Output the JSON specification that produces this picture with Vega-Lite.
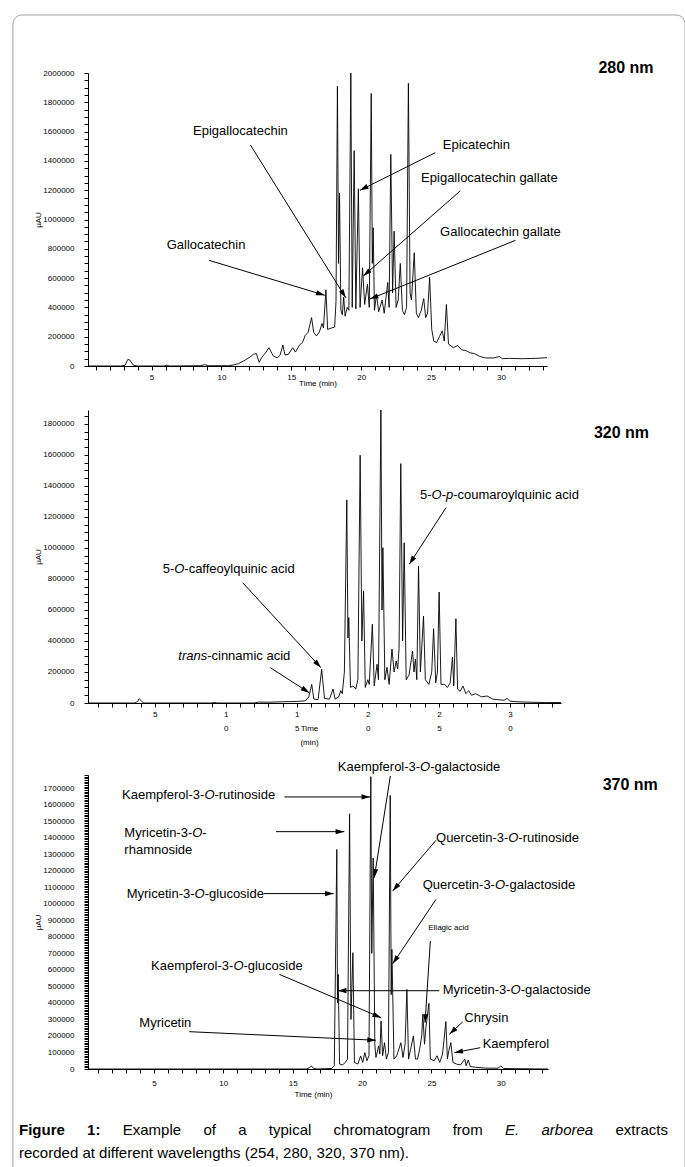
{
"$schema": "https://vega.github.io/schema/vega-lite/v6.json",
"background": "white",
"padding": {"left": 12, "top": 14, "right": 0, "bottom": 0},
"bounds": "flush",
"spacing": 14,
"config": {
  "font": "Liberation Sans",
  "view": {"stroke": null},
  "axis": {"grid": false, "domainColor": "#000", "tickColor": "#000", "labelColor": "#000", "titleColor": "#000",
    "labelFont": "Liberation Sans", "titleFont": "Liberation Sans", "labelFontSize": 8, "titleFontSize": 8,
    "titleFontWeight": "normal", "labelOverlap": false, "labelFlush": false, "labelBound": false,
    "tickSize": 4, "domainWidth": 1, "tickWidth": 1}
},
"datasets": {
  "border": [{"t": -4.92, "t2": 43.18, "v": 2396000, "v2": -5800000}],
  "p1": [
    {"t":0.45,"v":0},{"t":2.8,"v":0},{"t":3.1,"v":5000},{"t":3.3,"v":45000},{"t":3.45,"v":40000},{"t":3.7,"v":5000},{"t":4.0,"v":0},
    {"t":5.9,"v":0},{"t":6.1,"v":6000},{"t":6.3,"v":0},{"t":8.5,"v":2000},{"t":8.8,"v":9000},{"t":9.1,"v":2000},{"t":10.5,"v":2000},
    {"t":10.9,"v":8000},{"t":11.2,"v":15000},{"t":11.6,"v":35000},{"t":12.0,"v":58000},{"t":12.3,"v":80000},{"t":12.5,"v":85000},
    {"t":12.7,"v":25000},{"t":12.9,"v":60000},{"t":13.2,"v":95000},{"t":13.4,"v":125000},{"t":13.7,"v":70000},{"t":14.0,"v":55000},
    {"t":14.2,"v":75000},{"t":14.4,"v":143000},{"t":14.55,"v":75000},{"t":14.8,"v":80000},{"t":15.1,"v":125000},{"t":15.3,"v":95000},
    {"t":15.6,"v":145000},{"t":15.8,"v":160000},{"t":16.0,"v":210000},{"t":16.2,"v":230000},{"t":16.45,"v":330000},{"t":16.6,"v":230000},
    {"t":16.8,"v":205000},{"t":17.0,"v":230000},{"t":17.2,"v":290000},{"t":17.3,"v":260000},{"t":17.48,"v":520000},{"t":17.6,"v":250000},
    {"t":17.9,"v":260000},{"t":18.1,"v":265000},{"t":18.2,"v":440000},{"t":18.3,"v":1910000},{"t":18.38,"v":700000},{"t":18.45,"v":1180000},
    {"t":18.55,"v":380000},{"t":18.65,"v":350000},{"t":18.75,"v":470000},{"t":18.85,"v":340000},{"t":19.0,"v":400000},{"t":19.12,"v":380000},
    {"t":19.26,"v":2000000},{"t":19.36,"v":400000},{"t":19.5,"v":1470000},{"t":19.62,"v":390000},{"t":19.8,"v":1210000},{"t":19.92,"v":400000},
    {"t":20.1,"v":670000},{"t":20.25,"v":420000},{"t":20.45,"v":560000},{"t":20.58,"v":400000},{"t":20.72,"v":1860000},{"t":20.8,"v":700000},
    {"t":20.86,"v":944000},{"t":20.95,"v":380000},{"t":21.1,"v":490000},{"t":21.25,"v":370000},{"t":21.5,"v":450000},{"t":21.65,"v":360000},
    {"t":21.9,"v":570000},{"t":22.0,"v":400000},{"t":22.12,"v":1445000},{"t":22.25,"v":500000},{"t":22.36,"v":920000},{"t":22.5,"v":400000},
    {"t":22.65,"v":450000},{"t":22.8,"v":700000},{"t":22.95,"v":380000},{"t":23.1,"v":350000},{"t":23.25,"v":400000},{"t":23.38,"v":1930000},
    {"t":23.5,"v":500000},{"t":23.6,"v":450000},{"t":23.8,"v":773000},{"t":23.95,"v":360000},{"t":24.1,"v":330000},{"t":24.3,"v":380000},
    {"t":24.48,"v":460000},{"t":24.62,"v":330000},{"t":24.75,"v":360000},{"t":24.9,"v":605000},{"t":25.05,"v":250000},{"t":25.2,"v":170000},
    {"t":25.4,"v":160000},{"t":25.6,"v":200000},{"t":25.8,"v":240000},{"t":25.95,"v":170000},{"t":26.1,"v":420000},{"t":26.25,"v":150000},
    {"t":26.6,"v":125000},{"t":26.9,"v":140000},{"t":27.2,"v":110000},{"t":27.5,"v":105000},{"t":27.8,"v":90000},{"t":28.1,"v":85000},
    {"t":28.5,"v":65000},{"t":28.9,"v":55000},{"t":29.5,"v":55000},{"t":29.9,"v":65000},{"t":30.1,"v":50000},{"t":30.6,"v":52000},
    {"t":31.5,"v":50000},{"t":32.5,"v":52000},{"t":33.3,"v":57000}
  ],
  "a1": [
    {"t":12.07,"v":1509000,"t2":18.9,"v2":466000,"rot":148},
    {"t":9.12,"v":721000,"t2":17.39,"v2":483000,"rot":107},
    {"t":25.3,"v":1456000,"t2":19.91,"v2":1199000,"rot":243},
    {"t":27.09,"v":1195000,"t2":20.15,"v2":614000,"rot":229},
    {"t":31.05,"v":858000,"t2":20.62,"v2":457000,"rot":248}
  ],
  "n1": [
    {"t":7.97,"v":1604000,"s":"Epigallocatechin"},
    {"t":6.08,"v":826000,"s":"Gallocatechin"},
    {"t":25.84,"v":1507000,"s":"Epicatechin"},
    {"t":24.29,"v":1285000,"s":"Epigallocatechin gallate"},
    {"t":25.65,"v":915000,"s":"Gallocatechin gallate"}
  ],
  "w1": [{"t":36.98,"v":2034000,"s":"280 nm"}],
  "p2": [
    {"t":0.3,"v":0},{"t":3.6,"v":0},{"t":3.8,"v":10000},{"t":3.9,"v":28000},{"t":4.05,"v":15000},{"t":4.2,"v":0},{"t":9.0,"v":0},
    {"t":9.2,"v":4000},{"t":9.4,"v":0},{"t":12.0,"v":0},{"t":12.3,"v":6000},{"t":13.0,"v":5000},{"t":14.0,"v":8000},{"t":15.0,"v":10000},
    {"t":15.6,"v":14000},{"t":15.85,"v":40000},{"t":16.05,"v":120000},{"t":16.2,"v":25000},{"t":16.5,"v":22000},{"t":16.75,"v":217000},
    {"t":16.95,"v":30000},{"t":17.3,"v":25000},{"t":17.55,"v":90000},{"t":17.7,"v":25000},{"t":17.95,"v":40000},{"t":18.1,"v":80000},
    {"t":18.2,"v":60000},{"t":18.35,"v":200000},{"t":18.52,"v":1310000},{"t":18.6,"v":420000},{"t":18.66,"v":551000},{"t":18.78,"v":100000},
    {"t":18.95,"v":110000},{"t":19.15,"v":90000},{"t":19.3,"v":150000},{"t":19.46,"v":1598000},{"t":19.58,"v":400000},{"t":19.7,"v":723000},
    {"t":19.82,"v":100000},{"t":20.0,"v":150000},{"t":20.1,"v":120000},{"t":20.32,"v":508000},{"t":20.45,"v":110000},{"t":20.65,"v":250000},
    {"t":20.75,"v":150000},{"t":20.92,"v":1890000},{"t":21.0,"v":600000},{"t":21.06,"v":1002000},{"t":21.2,"v":150000},{"t":21.35,"v":230000},
    {"t":21.5,"v":120000},{"t":21.7,"v":348000},{"t":21.85,"v":200000},{"t":22.0,"v":271000},{"t":22.1,"v":220000},{"t":22.2,"v":350000},
    {"t":22.32,"v":1544000},{"t":22.45,"v":400000},{"t":22.56,"v":1034000},{"t":22.7,"v":150000},{"t":22.9,"v":180000},{"t":23.15,"v":335000},
    {"t":23.25,"v":200000},{"t":23.35,"v":284000},{"t":23.45,"v":150000},{"t":23.57,"v":884000},{"t":23.7,"v":200000},{"t":23.92,"v":561000},
    {"t":24.05,"v":150000},{"t":24.3,"v":120000},{"t":24.5,"v":200000},{"t":24.63,"v":479000},{"t":24.78,"v":130000},{"t":24.9,"v":200000},
    {"t":25.02,"v":716000},{"t":25.15,"v":120000},{"t":25.4,"v":120000},{"t":25.6,"v":100000},{"t":25.8,"v":130000},{"t":25.96,"v":297000},
    {"t":26.05,"v":110000},{"t":26.2,"v":544000},{"t":26.32,"v":90000},{"t":26.5,"v":75000},{"t":26.7,"v":110000},{"t":26.9,"v":60000},
    {"t":27.1,"v":80000},{"t":27.3,"v":50000},{"t":27.6,"v":60000},{"t":28.0,"v":40000},{"t":28.4,"v":45000},{"t":28.8,"v":25000},
    {"t":29.3,"v":20000},{"t":29.6,"v":18000},{"t":29.8,"v":30000},{"t":30.0,"v":12000},{"t":30.5,"v":8000},{"t":31.5,"v":5000},
    {"t":32.5,"v":3000},{"t":33.6,"v":3000}
  ],
  "a2": [
    {"t":11.19,"v":776000,"t2":16.7,"v2":228000,"rot":137},
    {"t":13.13,"v":228000,"t2":15.88,"v2":66000,"rot":123},
    {"t":25.5,"v":1260000,"t2":22.92,"v2":895000,"rot":213}
  ],
  "n2": [
    {"t":5.56,"v":862000,"s":"5-"},{"t":7.08,"v":862000,"s":"-caffeoylquinic acid"},
    {"t":8.69,"v":303000,"s":"-cinnamic acid"},
    {"t":23.67,"v":1342000,"s":"5-"},{"t":25.2,"v":1342000,"s":"-"},{"t":26.01,"v":1342000,"s":"-coumaroylquinic acid"}
  ],
  "i2": [
    {"t":6.37,"v":862000,"s":"O"},{"t":6.66,"v":303000,"s":"trans"},
    {"t":24.49,"v":1342000,"s":"O"},{"t":25.5,"v":1342000,"s":"p"}
  ],
  "w2": [{"t":35.92,"v":1740000,"s":"320 nm"}],
  "p3": [
    {"t":0.25,"v":0},{"t":16.0,"v":0},{"t":16.2,"v":8000},{"t":16.35,"v":18000},{"t":16.5,"v":4000},{"t":16.8,"v":0},{"t":17.3,"v":2000},
    {"t":17.8,"v":3000},{"t":18.0,"v":20000},{"t":18.18,"v":1329000},{"t":18.23,"v":400000},{"t":18.28,"v":573000},{"t":18.38,"v":30000},
    {"t":18.6,"v":25000},{"t":18.8,"v":40000},{"t":18.95,"v":60000},{"t":19.1,"v":1545000},{"t":19.2,"v":300000},{"t":19.34,"v":704000},
    {"t":19.45,"v":40000},{"t":19.7,"v":30000},{"t":19.9,"v":79000},{"t":20.05,"v":40000},{"t":20.2,"v":99000},{"t":20.35,"v":50000},
    {"t":20.5,"v":80000},{"t":20.63,"v":1770000},{"t":20.7,"v":700000},{"t":20.8,"v":1278000},{"t":20.92,"v":150000},{"t":21.0,"v":70000},
    {"t":21.2,"v":140000},{"t":21.28,"v":90000},{"t":21.37,"v":290000},{"t":21.48,"v":80000},{"t":21.62,"v":159000},{"t":21.75,"v":60000},
    {"t":21.9,"v":100000},{"t":22.03,"v":1656000},{"t":22.1,"v":450000},{"t":22.15,"v":724000},{"t":22.3,"v":60000},{"t":22.5,"v":80000},
    {"t":22.65,"v":120000},{"t":22.8,"v":159000},{"t":22.95,"v":70000},{"t":23.1,"v":150000},{"t":23.23,"v":482000},{"t":23.35,"v":60000},
    {"t":23.5,"v":120000},{"t":23.7,"v":200000},{"t":23.85,"v":60000},{"t":24.0,"v":60000},{"t":24.15,"v":120000},{"t":24.3,"v":200000},
    {"t":24.38,"v":330000},{"t":24.5,"v":150000},{"t":24.6,"v":250000},{"t":24.82,"v":398000},{"t":24.92,"v":60000},{"t":25.2,"v":50000},
    {"t":25.4,"v":80000},{"t":25.6,"v":40000},{"t":25.8,"v":90000},{"t":26.04,"v":287000},{"t":26.15,"v":60000},{"t":26.25,"v":110000},
    {"t":26.4,"v":160000},{"t":26.55,"v":40000},{"t":26.8,"v":30000},{"t":27.1,"v":25000},{"t":27.4,"v":60000},{"t":27.5,"v":20000},
    {"t":27.65,"v":55000},{"t":27.8,"v":15000},{"t":28.2,"v":10000},{"t":29.0,"v":5000},{"t":29.8,"v":5000},{"t":30.0,"v":18000},
    {"t":30.2,"v":3000},{"t":31.0,"v":2000},{"t":33.4,"v":0}
  ],
  "a3": [
    {"t":14.4,"v":1647000,"t2":20.59,"v2":1647000,"rot":90},
    {"t":22.04,"v":1774000,"t2":20.88,"v2":1158000,"rot":189},
    {"t":13.8,"v":1437000,"t2":18.72,"v2":1437000,"rot":90},
    {"t":12.91,"v":1062000,"t2":17.96,"v2":1062000,"rot":90},
    {"t":14.04,"v":573000,"t2":21.37,"v2":311000,"rot":113},
    {"t":7.55,"v":226000,"t2":21.0,"v2":174000,"rot":92.6},
    {"t":25.33,"v":1385000,"t2":22.21,"v2":1078000,"rot":220.5},
    {"t":25.33,"v":1027000,"t2":22.21,"v2":637000,"rot":214},
    {"t":24.92,"v":775000,"t2":24.54,"v2":280000,"rot":184},
    {"t":25.57,"v":474000,"t2":18.25,"v2":474000,"rot":270},
    {"t":27.25,"v":285000,"t2":26.29,"v2":210000,"rot":227},
    {"t":28.52,"v":129000,"t2":26.65,"v2":99000,"rot":259}
  ],
  "n3": [
    {"t":2.70,"v":1657000,"s":"Kaempferol-3-"},{"t":9.36,"v":1657000,"s":"-rutinoside"},
    {"t":18.25,"v":1828000,"s":"Kaempferol-3-"},{"t":24.91,"v":1828000,"s":"-galactoside"},
    {"t":2.87,"v":1431000,"s":"Myricetin-3-"},{"t":8.49,"v":1431000,"s":"-"},
    {"t":2.87,"v":1324000,"s":"rhamnoside"},
    {"t":3.04,"v":1061000,"s":"Myricetin-3-"},{"t":8.66,"v":1061000,"s":"-glucoside"},
    {"t":4.79,"v":624000,"s":"Kaempferol-3-"},{"t":11.45,"v":624000,"s":"-glucoside"},
    {"t":3.95,"v":280000,"s":"Myricetin"},
    {"t":25.33,"v":1400000,"s":"Quercetin-3-"},{"t":31.26,"v":1400000,"s":"-rutinoside"},
    {"t":24.37,"v":1112000,"s":"Quercetin-3-"},{"t":30.31,"v":1112000,"s":"-galactoside"},
    {"t":25.81,"v":476000,"s":"Myricetin-3-"},{"t":31.43,"v":476000,"s":"-galactoside"},
    {"t":27.37,"v":311000,"s":"Chrysin"},
    {"t":28.69,"v":153000,"s":"Kaempferol"}
  ],
  "i3": [
    {"t":8.64,"v":1657000,"s":"O"},{"t":24.18,"v":1828000,"s":"O"},{"t":7.76,"v":1431000,"s":"O"},
    {"t":7.93,"v":1061000,"s":"O"},{"t":10.73,"v":624000,"s":"O"},{"t":30.53,"v":1400000,"s":"O"},
    {"t":29.58,"v":1112000,"s":"O"},{"t":30.7,"v":476000,"s":"O"}
  ],
  "sm3": [{"t":24.77,"v":855000,"s":"Ellagic acid"}],
  "w3": [{"t":37.34,"v":1719000,"s":"370 nm"}],
  "capn": [
    {"t":2.75,"v":-369000,"s":"Example"},{"t":8.57,"v":-369000,"s":"of"},{"t":11.07,"v":-369000,"s":"a"},
    {"t":13.28,"v":-369000,"s":"typical"},{"t":17.95,"v":-369000,"s":"chromatogram"},{"t":26.53,"v":-369000,"s":"from"},
    {"t":38.26,"v":-369000,"s":"extracts"},
    {"t":-4.72,"v":-509000,"s":"recorded at different wavelengths (254, 280, 320, 370 nm)."}
  ],
  "capb": [{"t":-4.72,"v":-369000,"s":"Figure"},{"t":0.185,"v":-369000,"s":"1:"}],
  "capi": [{"t":30.3,"v":-369000,"s":"E."},{"t":32.93,"v":-369000,"s":"arborea"}]
},
"vconcat": [
  {
    "width": 459, "height": 293,
    "encoding": {
      "x": {"field": "t", "type": "quantitative", "scale": {"domain": [0.45, 33.3], "nice": false, "zero": false},
        "axis": {"title": "Time (min)", "tickCount": 33, "format": "d", "labelExpr": "datum.value % 5 === 0 ? datum.label : ''",
          "labelPadding": 3.5, "titleY": 17, "titleBaseline": "middle"}},
      "y": {"field": "v", "type": "quantitative", "scale": {"domain": [0, 2000000], "nice": false, "zero": false},
        "axis": {"title": "µAU", "tickCount": 40, "format": "d", "labelExpr": "datum.value % 200000 === 0 ? datum.label : ''",
          "labelPadding": 10, "titleX": -50, "titleBaseline": "middle"}}
    },
    "layer": [
      {"data": {"name": "border"}, "mark": {"type": "rect", "fillOpacity": 0, "stroke": "#a0a0a0", "strokeWidth": 1, "cornerRadius": 9},
        "encoding": {"x2": {"field": "t2"}, "y2": {"field": "v2"}}},
      {"data": {"name": "p1"}, "mark": {"type": "line", "color": "#000", "strokeWidth": 0.9}},
      {"data": {"name": "a1"}, "mark": {"type": "rule", "color": "#000", "strokeWidth": 1},
        "encoding": {"x2": {"field": "t2"}, "y2": {"field": "v2"}}},
      {"data": {"name": "a1"}, "mark": {"type": "point", "shape": "M0,0L-0.3,1L0.3,1Z", "filled": true, "color": "#000", "opacity": 1, "size": 300},
        "encoding": {
          "x": {"field": "t2", "type": "quantitative", "scale": {"domain": [0.45, 33.3], "nice": false, "zero": false}},
          "y": {"field": "v2", "type": "quantitative", "scale": {"domain": [0, 2000000], "nice": false, "zero": false}},
          "angle": {"field": "rot", "type": "quantitative", "scale": null}}},
      {"data": {"name": "n1"}, "mark": {"type": "text", "align": "left", "baseline": "middle", "fontSize": 13, "color": "#000"},
        "encoding": {"text": {"field": "s"}}},
      {"data": {"name": "w1"}, "mark": {"type": "text", "align": "left", "baseline": "middle", "fontSize": 16, "fontWeight": "bold", "color": "#000"},
        "encoding": {"text": {"field": "s"}}}
    ]
  },
  {"width": 459, "height": 16, "data": {"values": []}, "mark": "point", "encoding": {}},
  {
    "width": 473, "height": 293,
    "encoding": {
      "x": {"field": "t", "type": "quantitative", "scale": {"domain": [0.3, 33.6], "nice": false, "zero": false},
        "axis": {"title": ["Time", "(min)"], "tickCount": 33, "format": "d",
          "labelExpr": "datum.value % 5 === 0 ? (datum.value >= 10 ? split(datum.label, '') : datum.label) : ''",
          "labelPadding": 3.5, "labelLineHeight": 14, "titleX": 221, "titleY": 21, "titleBaseline": "top", "titleLineHeight": 14.7}},
      "y": {"field": "v", "type": "quantitative", "scale": {"domain": [0, 1890000], "nice": false, "zero": false},
        "axis": {"title": "µAU", "tickCount": 38, "format": "d", "labelExpr": "datum.value % 200000 === 0 ? datum.label : ''",
          "labelPadding": 10, "titleX": -50, "titleBaseline": "middle"}}
    },
    "layer": [
      {"data": {"name": "p2"}, "mark": {"type": "line", "color": "#000", "strokeWidth": 0.9}},
      {"data": {"name": "a2"}, "mark": {"type": "rule", "color": "#000", "strokeWidth": 1},
        "encoding": {"x2": {"field": "t2"}, "y2": {"field": "v2"}}},
      {"data": {"name": "a2"}, "mark": {"type": "point", "shape": "M0,0L-0.3,1L0.3,1Z", "filled": true, "color": "#000", "opacity": 1, "size": 300},
        "encoding": {
          "x": {"field": "t2", "type": "quantitative", "scale": {"domain": [0.3, 33.6], "nice": false, "zero": false}},
          "y": {"field": "v2", "type": "quantitative", "scale": {"domain": [0, 1890000], "nice": false, "zero": false}},
          "angle": {"field": "rot", "type": "quantitative", "scale": null}}},
      {"data": {"name": "n2"}, "mark": {"type": "text", "align": "left", "baseline": "middle", "fontSize": 13, "color": "#000"},
        "encoding": {"text": {"field": "s"}}},
      {"data": {"name": "i2"}, "mark": {"type": "text", "align": "left", "baseline": "middle", "fontSize": 13, "fontStyle": "italic", "color": "#000"},
        "encoding": {"text": {"field": "s"}}},
      {"data": {"name": "w2"}, "mark": {"type": "text", "align": "left", "baseline": "middle", "fontSize": 16, "fontWeight": "bold", "color": "#000"},
        "encoding": {"text": {"field": "s"}}}
    ]
  },
  {"width": 459, "height": 44, "data": {"values": []}, "mark": "point", "encoding": {}},
  {
    "width": 460, "height": 294,
    "encoding": {
      "x": {"field": "t", "type": "quantitative", "scale": {"domain": [0.25, 33.4], "nice": false, "zero": false},
        "axis": {"title": "Time (min)", "tickCount": 33, "format": "d", "labelExpr": "datum.value % 5 === 0 ? datum.label : ''",
          "labelPadding": 6.5, "titleX": 225, "titleY": 25, "titleBaseline": "middle"}},
      "y": {"field": "v", "type": "quantitative", "scale": {"domain": [0, 1780000], "nice": false, "zero": false},
        "axis": {"title": "µAU", "tickCount": 178, "format": "d", "labelExpr": "datum.value % 100000 === 0 ? datum.label : ''",
          "labelPadding": 10, "titleX": -50, "titleBaseline": "middle"}}
    },
    "layer": [
      {"data": {"name": "p3"}, "mark": {"type": "line", "color": "#000", "strokeWidth": 0.9}},
      {"data": {"name": "a3"}, "mark": {"type": "rule", "color": "#000", "strokeWidth": 1},
        "encoding": {"x2": {"field": "t2"}, "y2": {"field": "v2"}}},
      {"data": {"name": "a3"}, "mark": {"type": "point", "shape": "M0,0L-0.3,1L0.3,1Z", "filled": true, "color": "#000", "opacity": 1, "size": 300},
        "encoding": {
          "x": {"field": "t2", "type": "quantitative", "scale": {"domain": [0.25, 33.4], "nice": false, "zero": false}},
          "y": {"field": "v2", "type": "quantitative", "scale": {"domain": [0, 1780000], "nice": false, "zero": false}},
          "angle": {"field": "rot", "type": "quantitative", "scale": null}}},
      {"data": {"name": "n3"}, "mark": {"type": "text", "align": "left", "baseline": "middle", "fontSize": 13, "color": "#000"},
        "encoding": {"text": {"field": "s"}}},
      {"data": {"name": "i3"}, "mark": {"type": "text", "align": "left", "baseline": "middle", "fontSize": 13, "fontStyle": "italic", "color": "#000"},
        "encoding": {"text": {"field": "s"}}},
      {"data": {"name": "sm3"}, "mark": {"type": "text", "align": "left", "baseline": "middle", "fontSize": 8, "color": "#000"},
        "encoding": {"text": {"field": "s"}}},
      {"data": {"name": "w3"}, "mark": {"type": "text", "align": "left", "baseline": "middle", "fontSize": 16, "fontWeight": "bold", "color": "#000"},
        "encoding": {"text": {"field": "s"}}},
      {"data": {"name": "capn"}, "mark": {"type": "text", "align": "left", "baseline": "middle", "fontSize": 15, "color": "#000"},
        "encoding": {"text": {"field": "s"}}},
      {"data": {"name": "capb"}, "mark": {"type": "text", "align": "left", "baseline": "middle", "fontSize": 15, "fontWeight": "bold", "color": "#000"},
        "encoding": {"text": {"field": "s"}}},
      {"data": {"name": "capi"}, "mark": {"type": "text", "align": "left", "baseline": "middle", "fontSize": 15, "fontStyle": "italic", "color": "#000"},
        "encoding": {"text": {"field": "s"}}}
    ]
  }
]
}
